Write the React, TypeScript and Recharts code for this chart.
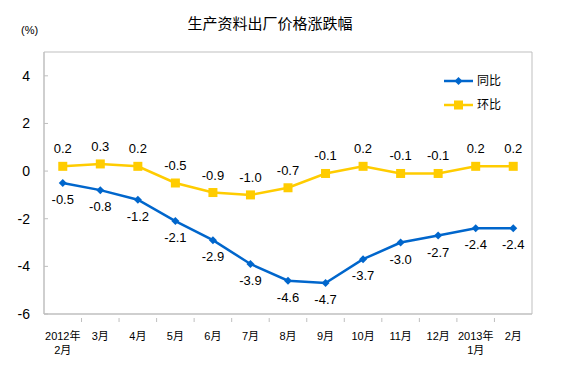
import {
  ComposedChart,
  Line,
  XAxis,
  YAxis,
  ReferenceArea,
  LabelList,
} from "recharts";

const MONTHS = [
  "2012年\n2月",
  "3月",
  "4月",
  "5月",
  "6月",
  "7月",
  "8月",
  "9月",
  "10月",
  "11月",
  "12月",
  "2013年\n1月",
  "2月",
];
const YOY = [-0.5, -0.8, -1.2, -2.1, -2.9, -3.9, -4.6, -4.7, -3.7, -3.0, -2.7, -2.4, -2.4];
const MOM = [0.2, 0.3, 0.2, -0.5, -0.9, -1.0, -0.7, -0.1, 0.2, -0.1, -0.1, 0.2, 0.2];
const Y_TICKS = [-6, -4, -2, 0, 2, 4];

const BLUE = "#0066CC";
const GOLD = "#FFCC00";
const FONT = "'Liberation Sans', 'Noto Sans CJK SC', sans-serif";

const data = MONTHS.map((m, i) => ({ month: m, yoy: YOY[i], mom: MOM[i] }));

function MonthTick(props: any) {
  const { x, y, payload, index } = props;
  const lines = String(payload.value).split("\n");
  const half = 18.75;
  return (
    <g>
      {index < MONTHS.length - 1 && (
        <line x1={x + half} x2={x + half} y1={y} y2={y - 4} stroke="#BFBFBF" />
      )}
      <text x={x} y={y + 18} textAnchor="middle" fontSize={11} fill="#000" fontFamily={FONT}>
        {lines.map((l: string, i: number) => (
          <tspan key={i} x={x} dy={i === 0 ? 0 : 14}>
            {l}
          </tspan>
        ))}
      </text>
    </g>
  );
}

function Diamond(props: any) {
  const { cx, cy } = props;
  if (cx == null || cy == null) return null;
  return <path d={`M${cx},${cy - 4}L${cx + 4},${cy}L${cx},${cy + 4}L${cx - 4},${cy}Z`} fill={BLUE} />;
}

function Square(props: any) {
  const { cx, cy } = props;
  if (cx == null || cy == null) return null;
  return <rect x={cx - 4.5} y={cy - 4.5} width={9} height={9} fill={GOLD} />;
}

const fmt = (v: any) => Number(v).toFixed(1);

export default function App() {
  return (
    <div style={{ position: "absolute", left: 0, top: 0, width: 564, height: 372, background: "#fff", fontFamily: FONT }}>
      <div style={{ position: "absolute", left: 0, width: 540, top: 12, textAlign: "center", fontSize: 15, color: "#000" }}>
        生产资料出厂价格涨跌幅
      </div>
      <div style={{ position: "absolute", left: 21, top: 24, fontSize: 11, color: "#000" }}>(%)</div>
      <ComposedChart
        width={564}
        height={372}
        data={data}
        margin={{ top: 52, right: 32, bottom: 0, left: 0 }}
      >
        <ReferenceArea y1={-6} y2={5} fill="none" stroke="#BFBFBF" strokeWidth={1} ifOverflow="visible" />
        <XAxis
          dataKey="month"
          scale="band"
          interval={0}
          height={58}
          axisLine={{ stroke: "#BFBFBF" }}
          tickLine={false}
          tick={<MonthTick />}
        />
        <YAxis
          domain={[-6, 5]}
          ticks={Y_TICKS}
          width={44}
          interval={0}
          axisLine={{ stroke: "#BFBFBF" }}
          tickLine={{ stroke: "#BFBFBF" }}
          tickSize={-4}
          tickMargin={18}
          tick={{ fontSize: 14, fill: "#000", fontFamily: FONT }}
        />
        <Line
          dataKey="yoy"
          stroke={BLUE}
          strokeWidth={2.5}
          dot={<Diamond />}
          activeDot={false}
          isAnimationActive={false}
        >
          <LabelList dataKey="yoy" position="bottom" offset={12} formatter={fmt} fontSize={13} fill="#000" fontFamily={FONT} />
        </Line>
        <Line
          dataKey="mom"
          stroke={GOLD}
          strokeWidth={2.5}
          dot={<Square />}
          activeDot={false}
          isAnimationActive={false}
        >
          <LabelList dataKey="mom" position="top" offset={13} formatter={fmt} fontSize={13} fill="#000" fontFamily={FONT} />
        </Line>
      </ComposedChart>
      <div style={{ position: "absolute", left: 444, top: 72, fontSize: 12, color: "#000", lineHeight: "18px" }}>
        <div style={{ display: "flex", alignItems: "center", height: 18 }}>
          <svg width={30} height={10} style={{ marginRight: 3 }}>
            <line x1={0} x2={29} y1={5} y2={5} stroke={BLUE} strokeWidth={2.5} />
            <path d="M14.5,1L18.5,5L14.5,9L10.5,5Z" fill={BLUE} />
          </svg>
          同比
        </div>
        <div style={{ display: "flex", alignItems: "center", height: 18, marginTop: 6 }}>
          <svg width={30} height={10} style={{ marginRight: 3 }}>
            <line x1={0} x2={29} y1={5} y2={5} stroke={GOLD} strokeWidth={2.5} />
            <rect x={10} y={0.5} width={9} height={9} fill={GOLD} />
          </svg>
          环比
        </div>
      </div>
    </div>
  );
}
